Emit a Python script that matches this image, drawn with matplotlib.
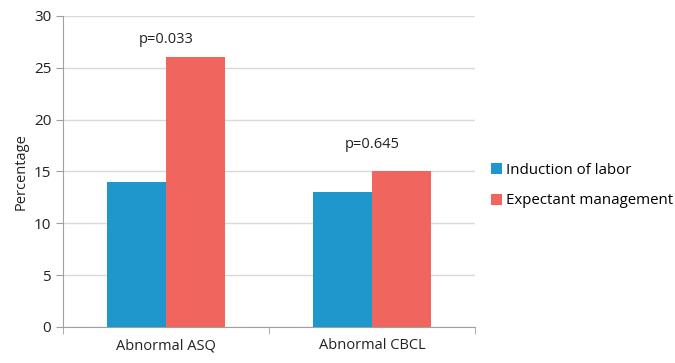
import numpy as np
import matplotlib.pyplot as plt

categories = ["Abnormal ASQ", "Abnormal CBCL"]
induction = [14, 13]
expectant = [26, 15]
p_labels = ["p=0.033", "p=0.645"]
p_heights = [27.7, 17.6]

plt.rcParams['font.family'] = ['Open Sans', 'DejaVu Sans']

fig = plt.figure(figsize=(6.75, 3.63), dpi=100)
ax = fig.add_axes([0.0933, 0.0992, 0.6104, 0.8568])

x = np.arange(len(categories))
w = 0.285
ax.bar(x - w / 2, induction, w, color="#2097cc", label="Induction of labor", zorder=3)
ax.bar(x + w / 2, expectant, w, color="#f0665f", label="Expectant management", zorder=3)

for xi, txt, h in zip(x, p_labels, p_heights):
    ax.text(xi, h, txt, ha="center", va="center", fontsize=10.5, color="#222222")

ax.set_xlim(-0.5, 1.5)
ax.set_ylim(0, 30)
ax.set_yticks(range(0, 31, 5))
ax.set_xticks(x)
ax.set_xticklabels(categories)
ax.set_xticks([-0.5, 0.5, 1.5], minor=True)
ax.tick_params(axis="x", which="major", length=0, pad=8, labelsize=10.5, labelcolor="#222222")
ax.tick_params(axis="x", which="minor", length=5, color="#a0a0a0")
ax.tick_params(axis="y", length=5, color="#a0a0a0", labelsize=11, labelcolor="#222222")
ax.set_ylabel("Percentage", fontsize=10.5, color="#222222")
ax.yaxis.grid(True, color="#d9d9d9", linewidth=1, zorder=0)
for s in ["top", "right"]:
    ax.spines[s].set_visible(False)
for s in ["left", "bottom"]:
    ax.spines[s].set_color("#a0a0a0")

ax.legend(loc="center left", bbox_to_anchor=(1.005, 0.455), frameon=False,
          fontsize=10.8, handlelength=0.75, handleheight=0.75,
          handletextpad=0.3, labelspacing=1.05)

fig.savefig("out.png", dpi=100)
